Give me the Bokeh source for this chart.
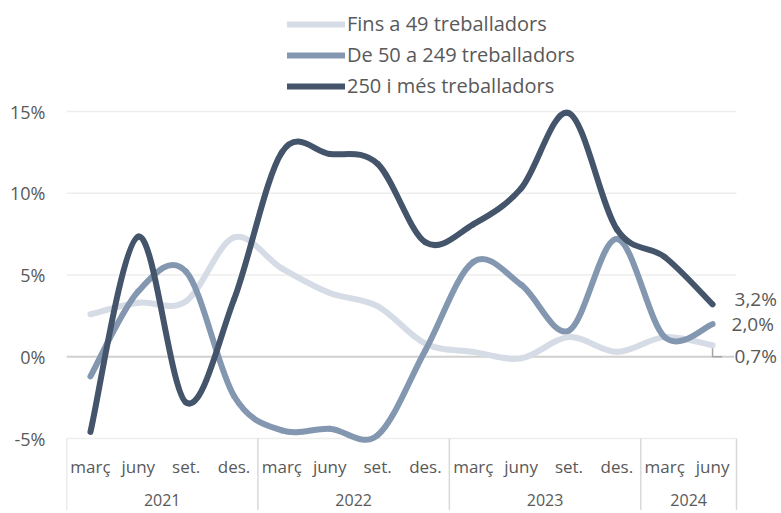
import numpy as np
from bokeh.plotting import figure
from bokeh.models import ColumnDataSource, FixedTicker, Range1d, Legend, LegendItem
from bokeh.embed import file_html
from bokeh.resources import INLINE

# ---------------- data ----------------
quarters = ["març", "juny", "set.", "des.",
            "març", "juny", "set.", "des.",
            "març", "juny", "set.", "des.",
            "març", "juny"]
years = ["2021", "2022", "2023", "2024"]
quarters_per_year = [4, 4, 4, 2]

small = [2.6, 3.3, 3.4, 7.3, 5.4, 3.9, 3.1, 0.8, 0.3, -0.1, 1.2, 0.3, 1.2, 0.7]
medium = [-1.2, 4.0, 5.2, -2.4, -4.5, -4.4, -4.8, 0.4, 5.8, 4.4, 1.6, 7.2, 1.2, 2.0]
large = [-4.6, 7.35, -2.8, 3.5, 12.5, 12.4, 11.8, 7.0, 8.1, 10.3, 14.9, 7.8, 6.1, 3.2]

series_names = ["Fins a 49 treballadors", "De 50 a 249 treballadors", "250 i més treballadors"]
series_colors = ["#d6dce5", "#8497b0", "#44546a"]
end_labels = ["0,7%", "2,0%", "3,2%"]

y_ticks = [-5, 0, 5, 10, 15]
y_tick_labels = ["-5%", "0%", "5%", "10%", "15%"]

FONT = "Open Sans"
TXT = "#595959"

x = np.arange(len(quarters), dtype=float)


def bezier_source(ys):
    P = np.asarray(ys, dtype=float)
    n = len(P)
    d = dict(x0=[], y0=[], x1=[], y1=[], cx0=[], cy0=[], cx1=[], cy1=[])
    for i in range(n - 1):
        a = max(i - 1, 0)
        b = min(i + 2, n - 1)
        d["x0"].append(x[i]); d["y0"].append(P[i])
        d["x1"].append(x[i + 1]); d["y1"].append(P[i + 1])
        d["cx0"].append(x[i] + (x[i + 1] - x[a]) / 6.0)
        d["cy0"].append(P[i] + (P[i + 1] - P[a]) / 6.0)
        d["cx1"].append(x[i + 1] - (x[b] - x[i]) / 6.0)
        d["cy1"].append(P[i + 1] - (P[b] - P[i]) / 6.0)
    return ColumnDataSource(d)


# ---------------- layout ----------------
W, H = 781, 510
LEFT = 66
PX_PER_CAT = 47.857
PX_PER_PCT = 16.35
x_lo = -0.5
x_hi = x_lo + (W - LEFT) / PX_PER_CAT
y_lo = -5 - 72 / PX_PER_PCT
y_hi = 15 + 111 / PX_PER_PCT

p = figure(width=W, height=H,
           x_range=Range1d(x_lo, x_hi), y_range=Range1d(y_lo, y_hi),
           min_border_left=LEFT, min_border_right=0,
           min_border_top=0, min_border_bottom=0,
           x_axis_location=None,
           output_backend="svg", toolbar_location=None)
p.outline_line_color = None
p.xgrid.visible = False
p.ygrid.visible = False

yax = p.yaxis[0]
yax.ticker = FixedTicker(ticks=y_ticks)
yax.major_label_overrides = {t: s for t, s in zip(y_ticks, y_tick_labels)}
yax.axis_line_color = None
yax.major_tick_line_color = None
yax.minor_tick_line_color = None
yax.major_tick_out = 0
yax.major_tick_in = 0
yax.major_label_standoff = 21
yax.major_label_text_font = FONT
yax.major_label_text_font_size = "18px"
yax.major_label_text_color = TXT

n = len(quarters)
left_edge, right_edge = x[0] - 0.5, x[-1] + 0.5

# horizontal grid lines
grid_y = [t for t in y_ticks if t != 0]
p.segment(x0=[left_edge] * len(grid_y), x1=[right_edge] * len(grid_y),
          y0=grid_y, y1=grid_y, line_color="#eeeeee", line_width=1.5)
# zero line
p.segment(x0=[left_edge], x1=[right_edge - 0.05], y0=[0], y1=[0],
          line_color="#d0d0d0", line_width=2)

# category axis: separators and labels
bounds = np.concatenate([[0], np.cumsum(quarters_per_year)]) - 0.5
p.segment(x0=bounds, x1=bounds, y0=[-5] * len(bounds), y1=[y_lo] * len(bounds),
          line_color="#d9d9d9", line_width=1.5)
p.text(x=x, y=[-5 - 28 / PX_PER_PCT] * n, text=quarters,
       text_align="center", text_baseline="middle",
       text_font={"value": FONT}, text_font_size="17px", text_color=TXT)
year_centers = [(bounds[i] + bounds[i + 1]) / 2 for i in range(len(years))]
p.text(x=year_centers, y=[-5 - 61 / PX_PER_PCT] * len(years), text=years,
       text_align="center", text_baseline="middle",
       text_font={"value": FONT}, text_font_size="16px", text_color=TXT)

# leader for the small-company end label
p.line(x=[x[-1], x[-1], x[-1] + 0.2], y=[small[-1], 0, 0],
       line_color="#a6a6a6", line_width=1.5)

renderers = []
for ys, col in zip([small, medium, large], series_colors):
    r = p.bezier(x0="x0", y0="y0", x1="x1", y1="y1", cx0="cx0", cy0="cy0",
                 cx1="cx1", cy1="cy1", source=bezier_source(ys), line_color=col,
                 line_width=6, line_cap="round")
    renderers.append(r)

legend = Legend(items=[LegendItem(label=nm, renderers=[r]) for nm, r in zip(series_names, renderers)],
                location=(221, 411), glyph_width=58, glyph_height=20,
                label_height=20, spacing=4, padding=0, margin=0,
                label_standoff=2, border_line_color=None, background_fill_alpha=0,
                label_text_font=FONT, label_text_font_size="20px",
                label_text_color=TXT)
p.add_layout(legend)

# end labels
last_vals = [small[-1], medium[-1], large[-1]]
p.text(x=[x[-1]] * 3, y=last_vals, text=end_labels,
       x_offset=[22, 19, 22], y_offset=[11, 0, -5],
       text_align="left", text_baseline="middle",
       text_font={"value": FONT}, text_font_size="19px", text_color=TXT)

open("out.html", "w").write(file_html(p, INLINE))
